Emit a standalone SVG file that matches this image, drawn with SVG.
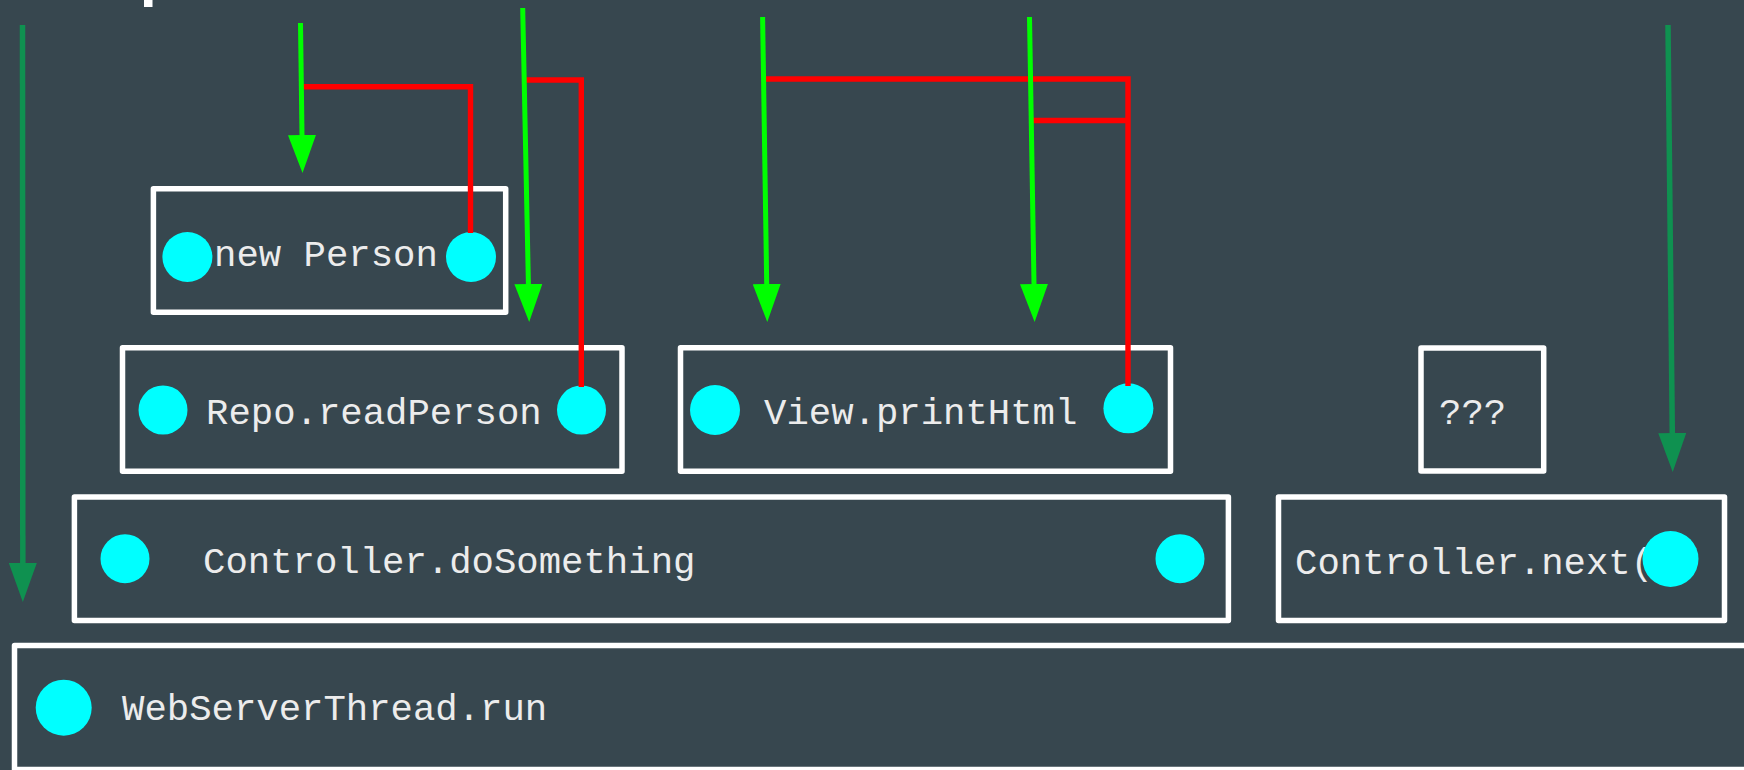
<svg xmlns="http://www.w3.org/2000/svg" width="1744" height="770" viewBox="0 0 1744 770">
  <style>
    .frame { fill: none; stroke: #ffffff; stroke-width: 5.5; stroke-linejoin: round; }
    .dot { fill: #00ffff; }
    .label { font-family: "Liberation Mono", "Courier New", monospace; font-size: 37.3px; fill: #ececec; }
    .call { fill: none; stroke: #00ff00; stroke-width: 5; marker-end: url(#headCall); }
    .flow { fill: none; stroke: #0f9150; stroke-width: 5.5; marker-end: url(#headFlow); }
    .ret { fill: none; stroke: #ff0000; stroke-width: 5.4; stroke-linejoin: miter; stroke-linecap: butt; }
  </style>
  <defs>
    <marker id="headCall" markerUnits="userSpaceOnUse" markerWidth="38" markerHeight="28" refX="0" refY="14" orient="auto">
      <path d="M0,0 L38,14 L0,28 z" fill="#00ff00"/>
    </marker>
    <marker id="headFlow" markerUnits="userSpaceOnUse" markerWidth="39" markerHeight="28" refX="0" refY="14" orient="auto">
      <path d="M0,0 L39,14 L0,28 z" fill="#0f9150"/>
    </marker>
  </defs>

  <rect x="0" y="0" width="1744" height="770" fill="#37474f"/>
  <rect x="144" y="0" width="8.5" height="7" fill="#ffffff"/>

  <!-- call stack frames -->
  <g id="webServerThreadRun">
    <rect class="frame" x="14.5" y="645.5" width="1800" height="124"/>
    <circle class="dot" cx="63.7" cy="707.7" r="28"/>
    <text class="label" x="122" y="720">WebServerThread.run</text>
  </g>

  <g id="controllerDoSomething">
    <rect class="frame" x="74.4" y="497" width="1154" height="123.5"/>
    <circle class="dot" cx="125" cy="558.7" r="24.5"/>
    <circle class="dot" cx="1180" cy="558.7" r="24.5"/>
    <text class="label" x="203" y="573">Controller.doSomething</text>
  </g>

  <g id="controllerNext">
    <rect class="frame" x="1278.5" y="497" width="446" height="123.5"/>
    <text class="label" x="1295" y="574">Controller.next()</text>
    <circle class="dot" cx="1670.5" cy="559" r="28"/>
  </g>

  <g id="repoReadPerson">
    <rect class="frame" x="122.5" y="347.7" width="499.5" height="123.5"/>
    <circle class="dot" cx="163" cy="410" r="24.5"/>
    <circle class="dot" cx="581.5" cy="410" r="24.5"/>
    <text class="label" x="206" y="424">Repo.readPerson</text>
  </g>

  <g id="viewPrintHtml">
    <rect class="frame" x="680.5" y="347.7" width="490" height="123.5"/>
    <circle class="dot" cx="715" cy="410" r="25"/>
    <circle class="dot" cx="1128.4" cy="408.3" r="25"/>
    <text class="label" x="764" y="424">View.printHtml</text>
  </g>

  <g id="unknownFrame">
    <rect class="frame" x="1421" y="348" width="122.7" height="123"/>
    <text class="label" x="1439" y="424">???</text>
  </g>

  <g id="newPerson">
    <rect class="frame" x="153.4" y="188.8" width="352.3" height="123.4"/>
    <circle class="dot" cx="187.4" cy="257" r="25"/>
    <circle class="dot" cx="471" cy="257" r="25"/>
    <text class="label" x="214" y="266">new Person</text>
  </g>

  <!-- connectors: calls (green), returns (red), thread flow (dark green) -->
  <g id="connectors">
    <path class="ret" d="M303,86.7 L470.5,86.7 L470.5,233"/>
    <path class="ret" d="M526,80 L581.3,80 L581.3,387"/>
    <path class="ret" d="M762.6,79 L1128,79 L1128,386"/>
    <path class="ret" d="M1031,119 L1033,120.5 L1128,120.5"/>

    <path class="call" d="M300.5,23 L302,135"/>
    <path class="call" d="M522.7,8 L528.4,284"/>
    <path class="call" d="M762.6,17 L766.7,284"/>
    <path class="call" d="M1029.5,17 L1034,284"/>

    <path class="flow" d="M22.5,25 L22.8,563"/>
    <path class="flow" d="M1668,25 L1672.3,433"/>
  </g>
</svg>
